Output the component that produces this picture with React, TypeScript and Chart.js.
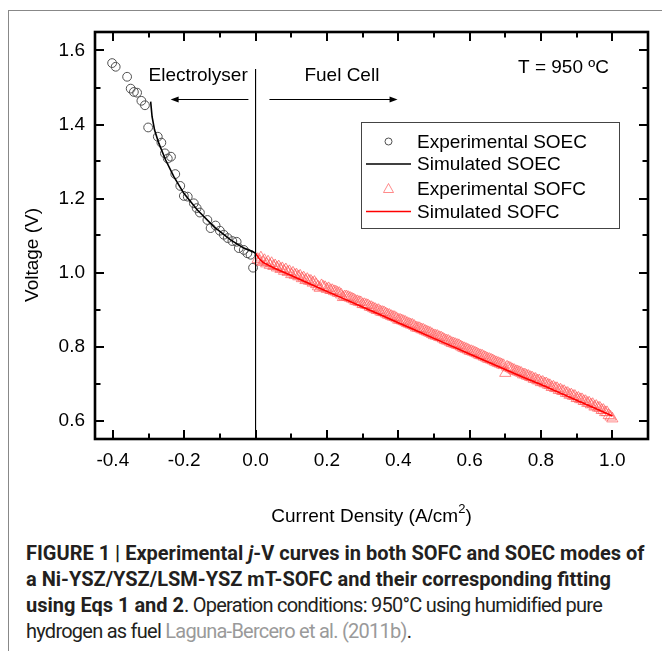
import React, { useEffect, useRef } from "react";
import { Chart, registerables } from "chart.js";
Chart.register(...registerables);

// ---------- data ----------
const soecExpX = [-0.402, -0.392, -0.36, -0.35, -0.341, -0.332, -0.32, -0.31, -0.301, -0.274, -0.264, -0.254, -0.246, -0.237, -0.225, -0.211, -0.201, -0.19, -0.173, -0.165, -0.156, -0.135, -0.126, -0.112, -0.1, -0.089, -0.078, -0.065, -0.053, -0.047, -0.033, -0.023, -0.014, -0.007];
const soecExpV = [1.566, 1.556, 1.529, 1.497, 1.488, 1.486, 1.464, 1.452, 1.392, 1.367, 1.351, 1.322, 1.308, 1.313, 1.266, 1.234, 1.207, 1.205, 1.187, 1.174, 1.162, 1.142, 1.12, 1.127, 1.113, 1.102, 1.093, 1.085, 1.083, 1.066, 1.061, 1.052, 1.048, 1.013];

const soecSimX = [-0.294, -0.29, -0.283, -0.271, -0.252, -0.229, -0.201, -0.163, -0.117, -0.07, -0.033, -0.003, 0];
const soecSimV = [1.462, 1.421, 1.385, 1.349, 1.304, 1.259, 1.214, 1.169, 1.124, 1.088, 1.066, 1.054, 1.053];

const sofcSimX = [0, 0.01, 0.02, 0.05, 0.1, 0.15, 0.2, 0.25, 0.3, 0.35, 0.4, 0.45, 0.5, 0.55, 0.6, 0.65, 0.7, 0.75, 0.8, 0.85, 0.9, 0.95, 1.0];
const sofcSimV = [1.052, 1.038, 1.028, 1.013, 0.992, 0.97, 0.949, 0.928, 0.907, 0.886, 0.864, 0.843, 0.822, 0.801, 0.78, 0.759, 0.738, 0.717, 0.697, 0.676, 0.655, 0.634, 0.612];

const sofcExpX = [0.006, 0.012, 0.02, 0.03, 0.04, 0.05, 0.06, 0.07, 0.08, 0.09, 0.1, 0.11, 0.12, 0.13, 0.14, 0.15, 0.16, 0.17, 0.18, 0.19, 0.2, 0.21, 0.22, 0.23, 0.24, 0.25, 0.26, 0.27, 0.28, 0.29, 0.3, 0.31, 0.32, 0.33, 0.34, 0.35, 0.36, 0.37, 0.38, 0.39, 0.4, 0.41, 0.42, 0.43, 0.44, 0.45, 0.46, 0.47, 0.48, 0.49, 0.5, 0.51, 0.52, 0.53, 0.54, 0.55, 0.56, 0.57, 0.58, 0.59, 0.6, 0.61, 0.62, 0.63, 0.64, 0.65, 0.66, 0.67, 0.68, 0.69, 0.7, 0.71, 0.72, 0.73, 0.74, 0.75, 0.76, 0.77, 0.78, 0.79, 0.8, 0.81, 0.82, 0.83, 0.84, 0.85, 0.86, 0.87, 0.88, 0.89, 0.9, 0.91, 0.92, 0.93, 0.94, 0.95, 0.96, 0.97, 0.98, 0.99, 1.0];
const sofcExpV = [1.036, 1.031, 1.028, 1.024, 1.02, 1.017, 1.013, 1.009, 1.004, 1.001, 0.995, 0.993, 0.989, 0.984, 0.979, 0.977, 0.972, 0.968, 0.958, 0.961, 0.955, 0.952, 0.949, 0.945, 0.94, 0.935, 0.933, 0.929, 0.923, 0.92, 0.914, 0.912, 0.907, 0.903, 0.898, 0.894, 0.892, 0.886, 0.882, 0.879, 0.872, 0.87, 0.866, 0.861, 0.858, 0.851, 0.849, 0.845, 0.84, 0.836, 0.83, 0.828, 0.824, 0.818, 0.815, 0.809, 0.806, 0.803, 0.797, 0.793, 0.788, 0.785, 0.781, 0.776, 0.772, 0.767, 0.764, 0.759, 0.755, 0.751, 0.728, 0.743, 0.738, 0.733, 0.73, 0.724, 0.721, 0.717, 0.712, 0.708, 0.703, 0.7, 0.696, 0.69, 0.687, 0.682, 0.679, 0.674, 0.669, 0.666, 0.66, 0.657, 0.652, 0.647, 0.643, 0.637, 0.634, 0.628, 0.622, 0.614, 0.605];

const sofcExp2X = [0.015, 0.025, 0.035, 0.045, 0.055, 0.065, 0.075, 0.085, 0.095, 0.105, 0.115, 0.125, 0.135, 0.145, 0.155, 0.165, 0.175, 0.185, 0.195, 0.205, 0.215, 0.225, 0.235, 0.245, 0.255, 0.265, 0.275, 0.285, 0.295, 0.305, 0.315, 0.325, 0.335, 0.345, 0.355, 0.365, 0.375, 0.385, 0.395, 0.405, 0.415, 0.425, 0.435, 0.445, 0.455, 0.465, 0.475, 0.485, 0.495, 0.505, 0.515, 0.525, 0.535, 0.545, 0.555, 0.565, 0.575, 0.585, 0.595, 0.605, 0.615, 0.625, 0.635, 0.645, 0.655, 0.665, 0.675, 0.685, 0.695, 0.705, 0.715, 0.725, 0.735, 0.745, 0.755, 0.765, 0.775, 0.785, 0.795, 0.805, 0.815, 0.825, 0.835, 0.845, 0.855, 0.865, 0.875, 0.885, 0.895, 0.905, 0.915, 0.925, 0.935, 0.945, 0.955, 0.965, 0.975, 0.985, 0.995];
const sofcExp2V = [1.040, 1.033, 1.029, 1.025, 1.019, 1.016, 1.011, 1.008, 1.003, 0.999, 0.994, 0.991, 0.986, 0.982, 0.977, 0.974, 0.962, 0.965, 0.960, 0.957, 0.952, 0.948, 0.944, 0.933, 0.935, 0.931, 0.927, 0.922, 0.919, 0.914, 0.911, 0.906, 0.901, 0.898, 0.893, 0.889, 0.885, 0.880, 0.876, 0.872, 0.868, 0.863, 0.859, 0.855, 0.850, 0.846, 0.842, 0.838, 0.833, 0.829, 0.825, 0.821, 0.816, 0.812, 0.808, 0.804, 0.800, 0.795, 0.791, 0.787, 0.783, 0.778, 0.775, 0.770, 0.766, 0.762, 0.757, 0.753, 0.749, 0.745, 0.741, 0.736, 0.732, 0.728, 0.724, 0.720, 0.716, 0.712, 0.708, 0.704, 0.700, 0.695, 0.691, 0.687, 0.683, 0.679, 0.674, 0.670, 0.666, 0.661, 0.657, 0.652, 0.648, 0.644, 0.639, 0.634, 0.628, 0.622, 0.610];

const divX = [0, 0];
const divV = [1.55, 0.55];

const xTickValues = [-0.4, -0.2, 0.0, 0.2, 0.4, 0.6, 0.8, 1.0];
const xMinorValues = [-0.3, -0.1, 0.1, 0.3, 0.5, 0.7, 0.9];
const yTickValues = [0.6, 0.8, 1.0, 1.2, 1.4, 1.6];
const yMinorValues = [0.7, 0.9, 1.1, 1.3, 1.5];

const legendLabels = ["Experimental SOEC", "Simulated SOEC", "Experimental SOFC", "Simulated SOFC"];

const FONT = "'Liberation Sans', Arial, sans-serif";
const TRI_COLOR = "rgba(255, 90, 90, 0.7)";
const CIRC_COLOR = "#505050";

const pts = (xs: number[], ys: number[]) => xs.map((x, i) => ({ x, y: ys[i] }));

export default function App() {
  const ref = useRef<HTMLCanvasElement>(null);

  useEffect(() => {
    const canvas = ref.current;
    if (!canvas) return;

    const overlay = {
      id: "overlay",
      afterDatasetsDraw(chart: any) {
        const { ctx, chartArea: a, scales } = chart;
        const sx = scales.x;
        const sy = scales.y;
        ctx.save();
        // frame
        ctx.strokeStyle = "#000";
        ctx.lineWidth = 2.6;
        ctx.strokeRect(a.left, a.top, a.right - a.left, a.bottom - a.top);
        ctx.lineWidth = 2;
        const tick = (vals: number[], len: number) => {
          vals.forEach((v) => {
            const px = Math.round(sx.getPixelForValue(v));
            ctx.beginPath();
            ctx.moveTo(px, a.bottom);
            ctx.lineTo(px, a.bottom - len);
            ctx.moveTo(px, a.top);
            ctx.lineTo(px, a.top + len);
            ctx.stroke();
          });
        };
        const tickY = (vals: number[], len: number) => {
          vals.forEach((v) => {
            const py = Math.round(sy.getPixelForValue(v));
            ctx.beginPath();
            ctx.moveTo(a.left, py);
            ctx.lineTo(a.left + len, py);
            ctx.moveTo(a.right, py);
            ctx.lineTo(a.right - len, py);
            ctx.stroke();
          });
        };
        tick(xTickValues, 9);
        tick(xMinorValues, 5.5);
        tickY(yTickValues, 9);
        tickY(yMinorValues, 5.5);

        // annotations
        ctx.fillStyle = "#000";
        ctx.font = `19px ${FONT}`;
        ctx.textAlign = "center";
        ctx.textBaseline = "middle";
        ctx.fillText("Electrolyser", sx.getPixelForValue(-0.161), sy.getPixelForValue(1.533));
        ctx.fillText("Fuel Cell", sx.getPixelForValue(0.242), sy.getPixelForValue(1.533));
        ctx.fillText("T = 950 ºC", sx.getPixelForValue(0.863), sy.getPixelForValue(1.552));

        // arrows
        const arrow = (x1: number, x2: number, v: number) => {
          const p1 = sx.getPixelForValue(x1);
          const p2 = sx.getPixelForValue(x2);
          const py = Math.round(sy.getPixelForValue(v)) + 0.5;
          const dir = p2 > p1 ? 1 : -1;
          ctx.lineWidth = 1;
          ctx.strokeStyle = "#000";
          ctx.fillStyle = "#000";
          ctx.beginPath();
          ctx.moveTo(p1, py);
          ctx.lineTo(p2 - dir * 6, py);
          ctx.stroke();
          ctx.beginPath();
          ctx.moveTo(p2, py);
          ctx.lineTo(p2 - dir * 8, py - 3);
          ctx.lineTo(p2 - dir * 8, py + 3);
          ctx.closePath();
          ctx.fill();
        };
        arrow(-0.02, -0.238, 1.468);
        arrow(0.039, 0.398, 1.468);

        // legend
        const lx = a.left + 266;
        const ly = a.top + 90;
        ctx.lineWidth = 1;
        ctx.strokeStyle = "#444";
        ctx.fillStyle = "#fff";
        ctx.fillRect(lx, ly, 258, 106);
        ctx.strokeRect(lx + 0.5, ly + 0.5, 258, 106);
        const rows = [19.5, 42, 66.5, 89.5];
        ctx.textAlign = "left";
        ctx.font = `19px ${FONT}`;
        rows.forEach((r, i) => {
          const cy = ly + r;
          ctx.fillStyle = "#000";
          ctx.fillText(legendLabels[i], lx + 56, cy + 1);
          const cx = lx + 27.5;
          if (i === 0) {
            ctx.strokeStyle = CIRC_COLOR;
            ctx.lineWidth = 1;
            ctx.beginPath();
            ctx.arc(cx, cy, 3.5, 0, Math.PI * 2);
            ctx.stroke();
          } else if (i === 2) {
            ctx.strokeStyle = TRI_COLOR;
            ctx.lineWidth = 1;
            ctx.beginPath();
            ctx.moveTo(cx, cy - 5);
            ctx.lineTo(cx + 5, cy + 4);
            ctx.lineTo(cx - 5, cy + 4);
            ctx.closePath();
            ctx.stroke();
          } else {
            ctx.strokeStyle = i === 1 ? "#000" : "#ff0000";
            ctx.lineWidth = 1.5;
            ctx.beginPath();
            ctx.moveTo(lx + 5, cy);
            ctx.lineTo(lx + 50, cy);
            ctx.stroke();
          }
        });

        // axis titles
        ctx.fillStyle = "#000";
        ctx.font = `19px ${FONT}`;
        ctx.textBaseline = "middle";
        const t1 = "Current Density (A/cm";
        const w1 = ctx.measureText(t1).width;
        ctx.font = `13px ${FONT}`;
        const w2 = ctx.measureText("2").width;
        ctx.font = `19px ${FONT}`;
        const w3 = ctx.measureText(")").width;
        const total = w1 + w2 + w3;
        const cxm = (a.left + a.right) / 2;
        const start = cxm - total / 2;
        const ty = a.bottom + 78;
        ctx.textAlign = "left";
        ctx.fillText(t1, start, ty);
        ctx.font = `13px ${FONT}`;
        ctx.fillText("2", start + w1, ty - 8);
        ctx.font = `19px ${FONT}`;
        ctx.fillText(")", start + w1 + w2, ty);

        ctx.translate(33, a.top + 223);
        ctx.rotate(-Math.PI / 2);
        ctx.textAlign = "center";
        ctx.fillText("Voltage (V)", 0, 0);
        ctx.restore();
      },
    };

    const chart = new Chart(canvas, {
      type: "scatter",
      data: {
        datasets: [
          {
            label: "divider",
            data: pts(divX, divV),
            showLine: true,
            borderColor: "#000",
            borderWidth: 1,
            pointRadius: 0,
          },
          {
            label: "Simulated SOFC",
            data: pts(sofcSimX, sofcSimV),
            showLine: true,
            borderColor: "#ff0000",
            borderWidth: 1.6,
            pointRadius: 0,
            tension: 0,
          },
          {
            label: "Simulated SOEC",
            data: pts(soecSimX, soecSimV),
            showLine: true,
            borderColor: "#000",
            borderWidth: 1.6,
            pointRadius: 0,
            tension: 0,
          },
          {
            label: "Experimental SOFC",
            data: pts(sofcExpX.concat(sofcExp2X), sofcExpV.concat(sofcExp2V)),
            pointStyle: "triangle",
            pointRadius: 6.5,
            borderColor: TRI_COLOR,
            backgroundColor: "rgba(0,0,0,0)",
            borderWidth: 1,
          },
          {
            label: "Experimental SOEC",
            data: pts(soecExpX, soecExpV),
            pointStyle: "circle",
            pointRadius: 4.4,
            borderColor: CIRC_COLOR,
            backgroundColor: "rgba(0,0,0,0)",
            borderWidth: 1,
          },
        ],
      },
      options: {
        animation: false,
        responsive: false,
        events: [],
        layout: { padding: { left: 0, top: 32, right: 14, bottom: 0 } },
        plugins: { legend: { display: false }, tooltip: { enabled: false } },
        scales: {
          x: {
            type: "linear",
            min: -0.45,
            max: 1.1,
            afterBuildTicks: (s: any) => {
              s.ticks = xTickValues.map((v) => ({ value: v }));
            },
            afterFit: (s: any) => {
              s.height = 101;
            },
            grid: { display: false, drawTicks: false },
            border: { display: false },
            ticks: {
              font: { family: FONT, size: 19 },
              color: "#000",
              padding: 10,
              maxRotation: 0,
              autoSkip: false,
              callback: (v: any) => Number(v).toFixed(1),
            },
          },
          y: {
            type: "linear",
            min: 0.55,
            max: 1.65,
            afterBuildTicks: (s: any) => {
              s.ticks = yTickValues.map((v) => ({ value: v }));
            },
            afterFit: (s: any) => {
              s.width = 95;
            },
            grid: { display: false, drawTicks: false },
            border: { display: false },
            ticks: {
              font: { family: FONT, size: 19 },
              color: "#000",
              padding: 10,
              autoSkip: false,
              callback: (v: any) => Number(v).toFixed(1),
            },
          },
        },
      },
      plugins: [overlay],
    } as any);
    return () => chart.destroy();
  }, []);

  const regular = { fontWeight: 400, letterSpacing: "-0.75px" } as const;

  return (
    <div
      style={{
        position: "absolute",
        left: 0,
        top: 0,
        width: 662,
        height: 651,
        overflow: "hidden",
        background: "#fff",
      }}
    >
      <div
        style={{
          position: "absolute",
          left: 8,
          top: 10,
          width: 700,
          height: 700,
          border: "1px solid #888",
        }}
      />
      <canvas ref={ref} width={662} height={540} style={{ position: "absolute", left: 0, top: 0, width: 662, height: 540 }} />
      <div
        style={{
          position: "absolute",
          left: 26,
          top: 540,
          width: 640,
          fontFamily: "Roboto, 'Liberation Sans', sans-serif",
          fontSize: 20,
          lineHeight: "26px",
          color: "#231f20",
          whiteSpace: "nowrap",
        }}
      >
        <div style={{ fontWeight: 700 }}>
          FIGURE 1 | Experimental <i>j</i>-V curves in both SOFC and SOEC modes of
        </div>
        <div style={{ fontWeight: 700 }}>a Ni-YSZ/YSZ/LSM-YSZ mT-SOFC and their corresponding fitting</div>
        <div>
          <span style={{ fontWeight: 700 }}>using Eqs 1 and 2</span>
          <span style={regular}>. Operation conditions: 950°C using humidified pure</span>
        </div>
        <div style={regular}>
          hydrogen as fuel <span style={{ color: "#9a9a9a" }}>Laguna-Bercero et al. (2011b)</span>.
        </div>
      </div>
    </div>
  );
}
